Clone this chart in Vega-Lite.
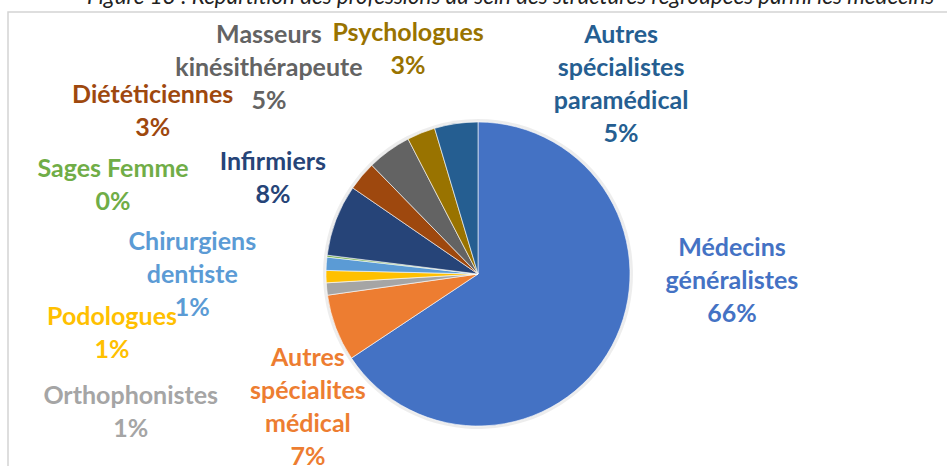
{
  "$schema": "https://vega.github.io/schema/vega-lite/v6.json",
  "width": 940,
  "height": 524,
  "autosize": {"type": "none"},
  "padding": {"left": 8, "top": 12, "right": -1, "bottom": -70},
  "view": {"stroke": "#D4D4D4", "strokeWidth": 1.5},
  "title": {
    "text": "Figure 13 : Répartition des professions au sein des structures regroupées parmi les médecins",
    "anchor": "start",
    "frame": "group",
    "dx": 79,
    "dy": 19,
    "offset": 0,
    "baseline": "alphabetic",
    "font": "Lato",
    "fontSize": 22.4,
    "fontStyle": "italic",
    "fontWeight": "normal",
    "color": "#222222"
  },
  "config": {
    "text": {"font": "Lato"}
  },
  "data": {
    "values": [
      {"i": 1, "cat": "Médecins généralistes", "pct": 65.6, "label": ["Médecins", "généralistes", "66%"]},
      {"i": 2, "cat": "Autres spécialites médical", "pct": 7.1, "label": ["Autres", "spécialites", "médical", "7%"]},
      {"i": 3, "cat": "Orthophonistes", "pct": 1.3, "label": ["Orthophonistes", "1%"]},
      {"i": 4, "cat": "Podologues", "pct": 1.3, "label": ["Podologues", "1%"]},
      {"i": 5, "cat": "Chirurgiens dentiste", "pct": 1.4, "label": ["Chirurgiens", "dentiste", "1%"]},
      {"i": 6, "cat": "Sages Femme", "pct": 0.2, "label": ["Sages Femme", "0%"]},
      {"i": 7, "cat": "Infirmiers", "pct": 7.6, "label": ["Infirmiers", "8%"]},
      {"i": 8, "cat": "Diététiciennes", "pct": 3.1, "label": ["Diététiciennes", "3%"]},
      {"i": 9, "cat": "Masseurs kinésithérapeute", "pct": 4.7, "label": ["Masseurs", "kinésithérapeute", "5%"]},
      {"i": 10, "cat": "Psychologues", "pct": 3.0, "label": ["Psychologues", "3%"]},
      {"i": 11, "cat": "Autres spécialistes paramédical", "pct": 4.6, "label": ["Autres", "spécialistes", "paramédical", "5%"]}
    ]
  },
  "encoding": {
    "theta": {"field": "pct", "type": "quantitative", "stack": true},
    "order": {"field": "i", "type": "quantitative"},
    "color": {
      "field": "cat",
      "type": "nominal",
      "legend": null,
      "scale": {
        "domain": ["Médecins généralistes", "Autres spécialites médical", "Orthophonistes", "Podologues", "Chirurgiens dentiste", "Sages Femme", "Infirmiers", "Diététiciennes", "Masseurs kinésithérapeute", "Psychologues", "Autres spécialistes paramédical"],
        "range": ["#4472C4", "#ED7D31", "#A5A5A5", "#FFC000", "#5B9BD5", "#70AD47", "#264478", "#9E480E", "#636363", "#997300", "#255E91"]
      }
    }
  },
  "layer": [
    {"mark": {"type": "arc", "outerRadius": 155, "opacity": 0.07}, "encoding": {"color": {"value": "#000000"}}},
    {"mark": {"type": "arc", "outerRadius": 152, "stroke": "#ffffff", "strokeWidth": 0.6}},
    {"mark": {"type": "text", "radius": 152, "dx": 120, "dy": -98, "fontWeight": "bold", "lineHeight": 33, "align": "center", "baseline": "middle"},
     "encoding": {"text": {"condition": {"test": "datum.i == 1", "field": "label"}, "value": ""}, "size": {"condition": {"test": "datum.i == 1", "value": 25}, "value": 0}}},
    {"mark": {"type": "text", "radius": 152, "dx": -28, "dy": 30, "fontWeight": "bold", "lineHeight": 33, "align": "center", "baseline": "middle"},
     "encoding": {"text": {"condition": {"test": "datum.i == 2", "field": "label"}, "value": ""}, "size": {"condition": {"test": "datum.i == 2", "value": 25}, "value": 0}}},
    {"mark": {"type": "text", "radius": 152, "dx": -196, "dy": 107, "fontWeight": "bold", "lineHeight": 33, "align": "center", "baseline": "middle"},
     "encoding": {"text": {"condition": {"test": "datum.i == 3", "field": "label"}, "value": ""}, "size": {"condition": {"test": "datum.i == 3", "value": 25}, "value": 0}}},
    {"mark": {"type": "text", "radius": 152, "dx": -214, "dy": 40, "fontWeight": "bold", "lineHeight": 33, "align": "center", "baseline": "middle"},
     "encoding": {"text": {"condition": {"test": "datum.i == 4", "field": "label"}, "value": ""}, "size": {"condition": {"test": "datum.i == 4", "value": 25}, "value": 0}}},
    {"mark": {"type": "text", "radius": 152, "dx": -134, "dy": -22, "fontWeight": "bold", "lineHeight": 33, "align": "center", "baseline": "middle"},
     "encoding": {"text": {"condition": {"test": "datum.i == 5", "field": "label"}, "value": ""}, "size": {"condition": {"test": "datum.i == 5", "value": 25}, "value": 0}}},
    {"mark": {"type": "text", "radius": 152, "dx": -214, "dy": -87, "fontWeight": "bold", "lineHeight": 33, "align": "center", "baseline": "middle"},
     "encoding": {"text": {"condition": {"test": "datum.i == 6", "field": "label"}, "value": ""}, "size": {"condition": {"test": "datum.i == 6", "value": 25}, "value": 0}}},
    {"mark": {"type": "text", "radius": 152, "dx": -63, "dy": -58, "fontWeight": "bold", "lineHeight": 33, "align": "center", "baseline": "middle"},
     "encoding": {"text": {"condition": {"test": "datum.i == 7", "field": "label"}, "value": ""}, "size": {"condition": {"test": "datum.i == 7", "value": 25}, "value": 0}}},
    {"mark": {"type": "text", "radius": 152, "dx": -209, "dy": -81, "fontWeight": "bold", "lineHeight": 33, "align": "center", "baseline": "middle"},
     "encoding": {"text": {"condition": {"test": "datum.i == 8", "field": "label"}, "value": ""}, "size": {"condition": {"test": "datum.i == 8", "value": 25}, "value": 0}}},
    {"mark": {"type": "text", "radius": 152, "dx": -120, "dy": -116, "fontWeight": "bold", "lineHeight": 33, "align": "center", "baseline": "middle"},
     "encoding": {"text": {"condition": {"test": "datum.i == 9", "field": "label"}, "value": ""}, "size": {"condition": {"test": "datum.i == 9", "value": 25}, "value": 0}}},
    {"mark": {"type": "text", "radius": 152, "dx": -13, "dy": -100, "fontWeight": "bold", "lineHeight": 33, "align": "center", "baseline": "middle"},
     "encoding": {"text": {"condition": {"test": "datum.i == 10", "field": "label"}, "value": ""}, "size": {"condition": {"test": "datum.i == 10", "value": 25}, "value": 0}}},
    {"mark": {"type": "text", "radius": 152, "dx": 165, "dy": -89, "fontWeight": "bold", "lineHeight": 33, "align": "center", "baseline": "middle"},
     "encoding": {"text": {"condition": {"test": "datum.i == 11", "field": "label"}, "value": ""}, "size": {"condition": {"test": "datum.i == 11", "value": 25}, "value": 0}}}
  ]
}
